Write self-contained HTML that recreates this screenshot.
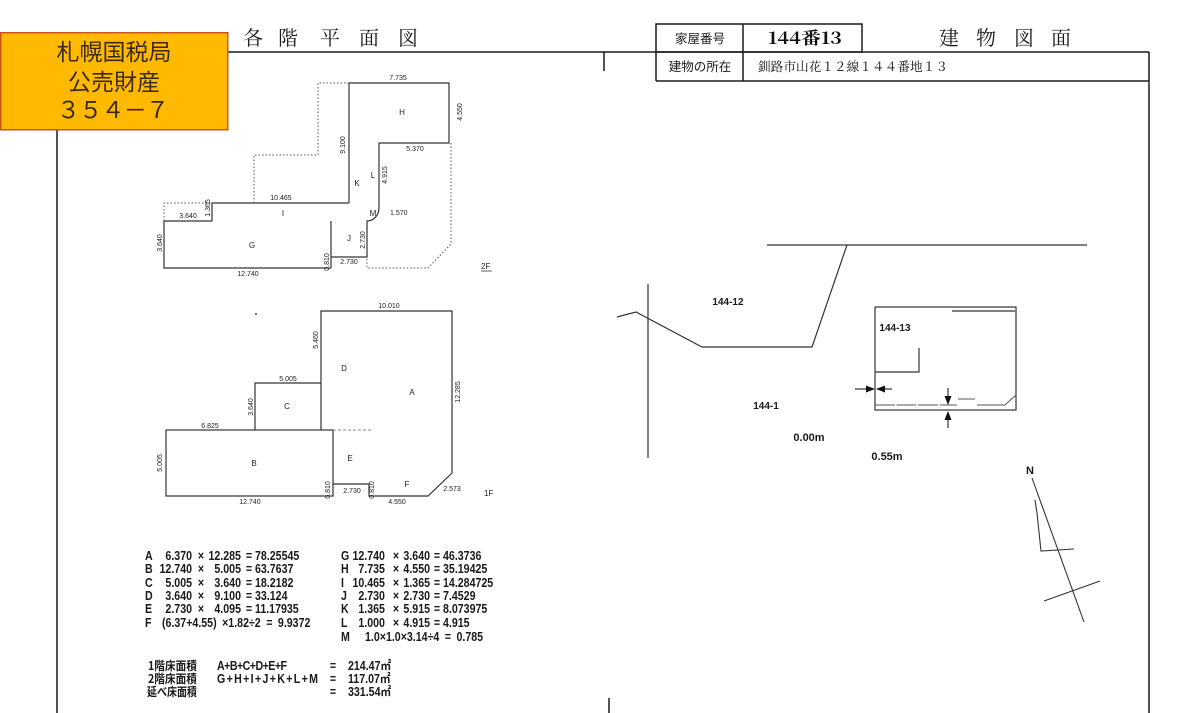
<!DOCTYPE html>
<html><head><meta charset="utf-8"><style>
html,body{margin:0;padding:0;background:#fff;}
svg{display:block;}
.d{font-family:"Liberation Sans",sans-serif;font-size:7px;fill:#222;}
.l{font-family:"Liberation Sans",sans-serif;font-size:8px;fill:#222;}
.c{font-family:"Liberation Sans","Noto Sans CJK JP",sans-serif;font-size:12.5px;font-weight:bold;fill:#1a1a1a;}
.cj{font-family:"Noto Sans CJK JP",sans-serif;font-size:12px;font-weight:bold;fill:#1a1a1a;}
.s{font-family:"Liberation Sans",sans-serif;font-size:10px;font-weight:bold;fill:#1a1a1a;}
</style></head><body>
<svg width="1178" height="713" viewBox="0 0 1178 713" xmlns="http://www.w3.org/2000/svg">
<rect width="1178" height="713" fill="#fff"/>

<!-- frame lines -->
<g stroke="#1a1a1a" stroke-width="1.5" fill="none">
<line x1="228" y1="52" x2="1149" y2="52"/>
<line x1="57" y1="130" x2="57" y2="713"/>
<line x1="604" y1="52" x2="604" y2="71"/>
<line x1="609" y1="698" x2="609" y2="713"/>
<line x1="1149" y1="52" x2="1149" y2="713"/>
<rect x="656" y="24" width="206" height="28"/>
<line x1="743" y1="24" x2="743" y2="81"/>
<line x1="656" y1="52" x2="656" y2="81"/>
<line x1="656" y1="81" x2="1149" y2="81"/>
</g>

<!-- orange label -->
<rect x="0.75" y="32.75" width="227" height="97" fill="#FFB900" stroke="#C8561A" stroke-width="1.5"/>
<g font-family="'Noto Sans CJK JP',sans-serif" font-size="23" fill="#3a2a10" text-anchor="middle">
<text x="114" y="60">札幌国税局</text>
<text x="114" y="90">公売財産</text>
<text x="113" y="118" textLength="112" lengthAdjust="spacing">３５４－７</text>
</g>

<!-- titles -->
<g font-family="'Noto Serif CJK SC','Noto Serif CJK JP',serif" font-size="20" fill="#1a1a1a">
<text x="243" y="45">各</text><text x="278" y="45">階</text><text x="320" y="45">平</text><text x="359" y="45">面</text><text x="398" y="45">図</text>
<text x="939" y="45">建</text><text x="976" y="45">物</text><text x="1014" y="45">図</text><text x="1051" y="45">面</text>
</g>
<g font-family="'Noto Sans CJK JP',sans-serif" font-size="12.5" fill="#1a1a1a">
<text x="700" y="43" text-anchor="middle">家屋番号</text>
<text x="700" y="71" text-anchor="middle">建物の所在</text>
</g>
<text x="768" y="44" font-family="'Noto Serif CJK SC',serif" font-size="17" font-weight="bold" fill="#111" textLength="74" lengthAdjust="spacingAndGlyphs">144番13</text>
<text x="758" y="71" font-family="'Noto Serif CJK SC',serif" font-size="12.5" fill="#111" textLength="190" lengthAdjust="spacingAndGlyphs">釧路市山花１２線１４４番地１３</text>

<!-- 2F plan -->
<g stroke="#333" stroke-width="1.2" fill="none">
<path d="M349 203 L349 83 L449 83 L449 143 L379 143 L379 208 A12 13 0 0 1 367 221 L367 257 L331 257"/>
<line x1="331" y1="221" x2="331" y2="268"/>
<path d="M331 268 L164 268 L164 221 L212 221 L212 203 L349 203"/>
</g>
<g stroke="#555" stroke-width="1" fill="none" stroke-dasharray="1.5,2">
<path d="M164 221 L164 203 L212 203"/>
<path d="M254 203 L254 155 L318 155 L318 83 L349 83"/>
<path d="M451 143 L451 244 L428 268 L367 268 L367 257"/>
</g>
<g class="d">
<text x="398" y="80" text-anchor="middle">7.735</text>
<text x="415" y="151" text-anchor="middle">5.370</text>
<text x="281" y="200" text-anchor="middle">10.465</text>
<text x="188" y="218" text-anchor="middle">3.640</text>
<text x="390" y="215">1.570</text>
<text x="349" y="264" text-anchor="middle">2.730</text>
<text x="248" y="276" text-anchor="middle">12.740</text>
<text transform="translate(462,112) rotate(-90)" text-anchor="middle">4.550</text>
<text transform="translate(345,145) rotate(-90)" text-anchor="middle">9.100</text>
<text transform="translate(387,175) rotate(-90)" text-anchor="middle">4.915</text>
<text transform="translate(210,208) rotate(-90)" text-anchor="middle">1.365</text>
<text transform="translate(365,240) rotate(-90)" text-anchor="middle">2.730</text>
<text transform="translate(162,243) rotate(-90)" text-anchor="middle">3.640</text>
<text transform="translate(329,262) rotate(-90)" text-anchor="middle">0.810</text>
</g>
<g class="l" text-anchor="middle">
<text x="402" y="115">H</text>
<text x="373" y="178">L</text>
<text x="357" y="186">K</text>
<text x="283" y="216">I</text>
<text x="373" y="216">M</text>
<text x="252" y="248">G</text>
<text x="349" y="241">J</text>
</g>
<text x="481" y="269" class="l">2F</text>
<line x1="481" y1="271" x2="492" y2="271" stroke="#333" stroke-width="0.8"/>

<!-- 1F plan -->
<g stroke="#333" stroke-width="1.2" fill="none">
<path d="M321 430 L321 311 L452 311 L452 473 L428 496 L369 496 L369 484 L333 484"/>
<rect x="166" y="430" width="167" height="66"/>
<path d="M255 430 L255 383 L321 383"/>
</g>
<line x1="333" y1="430" x2="372" y2="430" stroke="#888" stroke-width="1" stroke-dasharray="3,2"/>
<circle cx="256" cy="314" r="1" fill="#444"/>
<g class="d">
<text x="389" y="308" text-anchor="middle">10.010</text>
<text x="288" y="381" text-anchor="middle">5.005</text>
<text x="210" y="428" text-anchor="middle">6.825</text>
<text x="352" y="493" text-anchor="middle">2.730</text>
<text x="452" y="491" text-anchor="middle">2.573</text>
<text x="250" y="504" text-anchor="middle">12.740</text>
<text x="397" y="504" text-anchor="middle">4.550</text>
<text transform="translate(318,340) rotate(-90)" text-anchor="middle">5.460</text>
<text transform="translate(460,392) rotate(-90)" text-anchor="middle">12.285</text>
<text transform="translate(253,407) rotate(-90)" text-anchor="middle">3.640</text>
<text transform="translate(162,463) rotate(-90)" text-anchor="middle">5.005</text>
<text transform="translate(330,490) rotate(-90)" text-anchor="middle">0.810</text>
<text transform="translate(374,490) rotate(-90)" text-anchor="middle">0.810</text>
</g>
<g class="l" text-anchor="middle">
<text x="344" y="371">D</text>
<text x="412" y="395">A</text>
<text x="287" y="409">C</text>
<text x="254" y="466">B</text>
<text x="350" y="461">E</text>
<text x="407" y="487">F</text>
</g>
<text x="484" y="496" class="l">1F</text>

<!-- calculations (condensed via horizontal scale 0.85) -->
<g transform="scale(0.85,1)">
<g class="c">
<text x="170.6" y="560">A</text><text x="170.6" y="573">B</text><text x="170.6" y="587">C</text><text x="170.6" y="600">D</text><text x="170.6" y="613">E</text><text x="170.6" y="627">F</text>
<text x="190.6" y="627" word-spacing="3">(6.37+4.55) ×1.82÷2 = 9.9372</text>
<text x="401.2" y="560">G</text><text x="401.2" y="573">H</text><text x="401.2" y="587">I</text><text x="401.2" y="600">J</text><text x="401.2" y="613">K</text><text x="401.2" y="627">L</text><text x="401.2" y="641">M</text>
<text x="429.4" y="641" word-spacing="3">1.0×1.0×3.14÷4 = 0.785</text>
<text x="300" y="560">78.25545</text><text x="300" y="573">63.7637</text><text x="300" y="587">18.2182</text><text x="300" y="600">33.124</text><text x="300" y="613">11.17935</text>
<text x="521.2" y="560">46.3736</text><text x="521.2" y="573">35.19425</text><text x="521.2" y="587">14.284725</text><text x="521.2" y="600">7.4529</text><text x="521.2" y="613">8.073975</text><text x="521.2" y="627">4.915</text>
</g>
<g class="c" text-anchor="end">
<text x="225.9" y="560">6.370</text><text x="225.9" y="573">12.740</text><text x="225.9" y="587">5.005</text><text x="225.9" y="600">3.640</text><text x="225.9" y="613">2.730</text>
<text x="283.5" y="560">12.285</text><text x="283.5" y="573">5.005</text><text x="283.5" y="587">3.640</text><text x="283.5" y="600">9.100</text><text x="283.5" y="613">4.095</text>
<text x="452.9" y="560">12.740</text><text x="452.9" y="573">7.735</text><text x="452.9" y="587">10.465</text><text x="452.9" y="600">2.730</text><text x="452.9" y="613">1.365</text><text x="452.9" y="627">1.000</text>
<text x="505.9" y="560">3.640</text><text x="505.9" y="573">4.550</text><text x="505.9" y="587">1.365</text><text x="505.9" y="600">2.730</text><text x="505.9" y="613">5.915</text><text x="505.9" y="627">4.915</text>
</g>
<g class="c" text-anchor="middle">
<text x="236.5" y="560">×</text><text x="236.5" y="573">×</text><text x="236.5" y="587">×</text><text x="236.5" y="600">×</text><text x="236.5" y="613">×</text>
<text x="292.9" y="560">=</text><text x="292.9" y="573">=</text><text x="292.9" y="587">=</text><text x="292.9" y="600">=</text><text x="292.9" y="613">=</text>
<text x="465.9" y="560">×</text><text x="465.9" y="573">×</text><text x="465.9" y="587">×</text><text x="465.9" y="600">×</text><text x="465.9" y="613">×</text><text x="465.9" y="627">×</text>
<text x="514.1" y="560">=</text><text x="514.1" y="573">=</text><text x="514.1" y="587">=</text><text x="514.1" y="600">=</text><text x="514.1" y="613">=</text><text x="514.1" y="627">=</text>
<text x="391.8" y="670">=</text><text x="391.8" y="683">=</text><text x="391.8" y="696">=</text>
</g>
<g class="cj">
<text x="174.1" y="670" textLength="57.6" lengthAdjust="spacingAndGlyphs">1階床面積</text>
<text x="174.1" y="683" textLength="57.6" lengthAdjust="spacingAndGlyphs">2階床面積</text>
<text x="172.9" y="696" textLength="58.8" lengthAdjust="spacingAndGlyphs">延べ床面積</text>
</g>
<g class="c">
<text x="255.3" y="670" textLength="82.4" lengthAdjust="spacing">A+B+C+D+E+F</text>
<text x="255.3" y="683" textLength="118.8" lengthAdjust="spacing">G+H+I+J+K+L+M</text>
<text x="409.4" y="670">214.47㎡</text>
<text x="409.4" y="683">117.07㎡</text>
<text x="409.4" y="696">331.54㎡</text>
</g>
</g>

<!-- site plan -->
<g stroke="#333" stroke-width="1.2" fill="none">
<line x1="767" y1="245" x2="1087" y2="245"/>
<path d="M847 245 L812 347 L702 347 L636 312 L617 317"/>
<line x1="648" y1="284" x2="648" y2="458"/>
<rect x="875" y="307" width="141" height="103"/>
<line x1="952" y1="311" x2="1015" y2="311"/>
<path d="M919 348 L919 372 L875 372"/>
<line x1="855" y1="389" x2="870" y2="389"/>
<line x1="880" y1="389" x2="892" y2="389"/>
<line x1="948" y1="388" x2="948" y2="399"/>
<line x1="948" y1="416" x2="948" y2="428"/>
</g>
<g stroke="#555" stroke-width="1" fill="none">
<line x1="875" y1="405" x2="957" y2="405" stroke-dasharray="20,1.5"/>
<line x1="958" y1="399" x2="975" y2="399"/>
<path d="M977 405 L1005 405 L1016 395"/>
</g>
<g fill="#111">
<polygon points="875,389 866,385.5 866,392.5"/>
<polygon points="876,389 885,385.5 885,392.5"/>
<polygon points="948,405 944.5,396 951.5,396"/>
<polygon points="948,411 944.5,420 951.5,420"/>
</g>
<g class="s" text-anchor="middle">
<text x="728" y="305">144-12</text>
<text x="766" y="409">144-1</text>
<text x="895" y="331">144-13</text>
<text x="809" y="441" font-size="11">0.00m</text>
<text x="887" y="460" font-size="11">0.55m</text>
<text x="1030" y="474" font-size="11">N</text>
</g>

<!-- north arrow -->
<g stroke="#333" stroke-width="1.1" fill="none">
<line x1="1032" y1="478" x2="1084" y2="622"/>
<path d="M1035 500 L1037 513 L1041 551 L1074 549"/>
<line x1="1044" y1="601" x2="1100" y2="581"/>
</g>
</svg>
</body></html>
